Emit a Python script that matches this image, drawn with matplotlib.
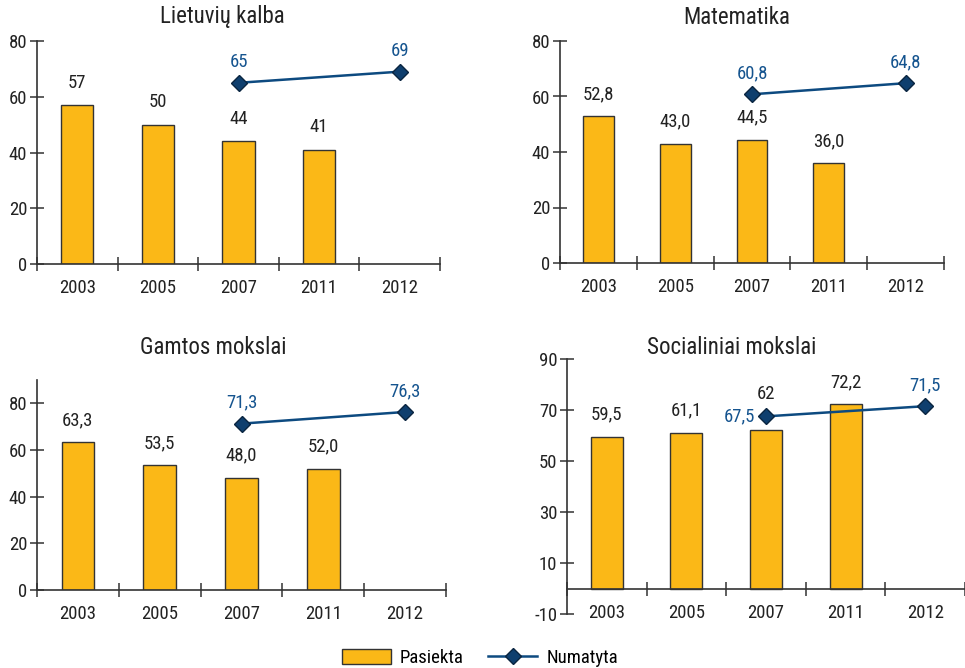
import matplotlib
matplotlib.use("Agg")
import matplotlib.pyplot as plt
from matplotlib.patches import Patch
from matplotlib.lines import Line2D

plt.rcParams['font.family'] = ['Roboto Condensed', 'Liberation Sans Narrow', 'Liberation Sans', 'DejaVu Sans']
plt.rcParams['axes.unicode_minus'] = False

years = ['2003', '2005', '2007', '2011', '2012']
bar_years = [0, 1, 2, 3]
target_years = [2, 4]

lt_actual = [57, 50, 44, 41]
lt_target = [65, 69]
math_actual = [52.8, 43.0, 44.5, 36.0]
math_target = [60.8, 64.8]
sci_actual = [63.3, 53.5, 48.0, 52.0]
sci_target = [71.3, 76.3]
soc_actual = [59.5, 61.1, 62, 72.2]
soc_target = [67.5, 71.5]

BAR_COLOR = '#FBB817'
EDGE = '#333333'
LINE_COLOR = '#0D4A80'
MARKER_COLOR = '#0F3F6E'
BLUE_TEXT = '#15548F'
TEXT = '#222222'
FS = 13.5


def fmt(v, decimals):
    # Lithuanian decimal comma
    s = f"{v:.{decimals}f}" if decimals is not None else f"{v:g}"
    return s.replace('.', ',')


fig = plt.figure(figsize=(9.65, 6.68), dpi=100)

W, H = 965, 668

def px_axes(left, top, right, bottom):
    return fig.add_axes([left / W, 1 - bottom / H, (right - left) / W, (bottom - top) / H])


panels = [
    # title, actual, target, decimals, axes box (px), ylim, yticks, title pos (px), target label side
    ('Lietuvių kalba', lt_actual, lt_target, None, (37, 41, 440, 264), (0, 80), [0, 20, 40, 60, 80], (222, 17), 'above'),
    ('Matematika', math_actual, math_target, 1, (560, 41, 944, 263), (0, 80), [0, 20, 40, 60, 80], (737, 17), 'above'),
    ('Gamtos mokslai', sci_actual, sci_target, 1, (37, 380, 446, 590), (0, 90), [0, 20, 40, 60, 80], (213, 348), 'above'),
    ('Socialiniai mokslai', soc_actual, soc_target, None, (567, 359, 965, 614), (-10, 90), [-10, 10, 30, 50, 70, 90], (732, 348), 'left'),
]

for title, actual, target, dec, box, ylim, yticks, tpos, side in panels:
    ax = px_axes(*box)
    ax.bar(bar_years, actual, width=0.4, color=BAR_COLOR, edgecolor=EDGE, linewidth=1.0, zorder=2)
    ax.plot(target_years, target, color=LINE_COLOR, linewidth=1.8, marker='D', markersize=8,
            markerfacecolor=MARKER_COLOR, markeredgecolor='#0a2540', zorder=3, clip_on=False)

    for x, v in zip(bar_years, actual):
        anchor = v
        # lift the bar label over a side-labelled marker in the same column
        if side == 'left' and x == target_years[0]:
            anchor = max(v, target[0])
        ax.annotate(fmt(v, dec), (x, anchor), xytext=(0, 16), textcoords='offset points',
                    ha='center', va='center', fontsize=FS, color=TEXT)
    for x, v in zip(target_years, target):
        if side == 'left' and x == target_years[0]:
            ax.annotate(fmt(v, dec), (x, v), xytext=(-8, 0), textcoords='offset points',
                        ha='right', va='center', fontsize=FS, color=BLUE_TEXT)
        else:
            ax.annotate(fmt(v, dec), (x, v), xytext=(0, 15), textcoords='offset points',
                        ha='center', va='center', fontsize=FS, color=BLUE_TEXT)

    ax.set_xlim(-0.5, 4.5)
    ax.set_ylim(*ylim)
    ax.set_yticks(yticks)
    ax.set_xticks([i - 0.5 for i in range(6)])
    ax.set_xticks(range(5), minor=True)
    ax.set_xticklabels([])
    ax.set_xticklabels(years, minor=True)
    ax.tick_params(axis='x', which='major', direction='inout', length=10, width=1.1, color=EDGE)
    ax.tick_params(axis='x', which='minor', length=0, pad=11, labelsize=FS, labelcolor=TEXT)
    ax.tick_params(axis='y', direction='inout', length=10, width=1.1, color=EDGE,
                   labelsize=FS, labelcolor=TEXT, pad=2)

    for s in ('top', 'right'):
        ax.spines[s].set_visible(False)
    for s in ('left', 'bottom'):
        ax.spines[s].set_color(EDGE)
        ax.spines[s].set_linewidth(1.2)
    ax.spines['bottom'].set_position(('data', 0))
    ax.patch.set_alpha(0)

    fig.text(tpos[0] / W, 1 - tpos[1] / H, title, ha='center', va='center', fontsize=16.5, color=TEXT)

handles = [
    Patch(facecolor=BAR_COLOR, edgecolor=EDGE, linewidth=1.0, label='Pasiekta'),
    Line2D([], [], color=LINE_COLOR, linewidth=1.8, marker='D', markersize=8,
           markerfacecolor=MARKER_COLOR, markeredgecolor='#0a2540', label='Numatyta'),
]
fig.legend(handles=handles, loc='center', bbox_to_anchor=(480 / W, 1 - 658 / H), ncol=2,
           frameon=False, fontsize=FS, handlelength=2.6, handleheight=0.8,
           columnspacing=1.3, handletextpad=0.5)

fig.savefig('out.png', dpi=100)
